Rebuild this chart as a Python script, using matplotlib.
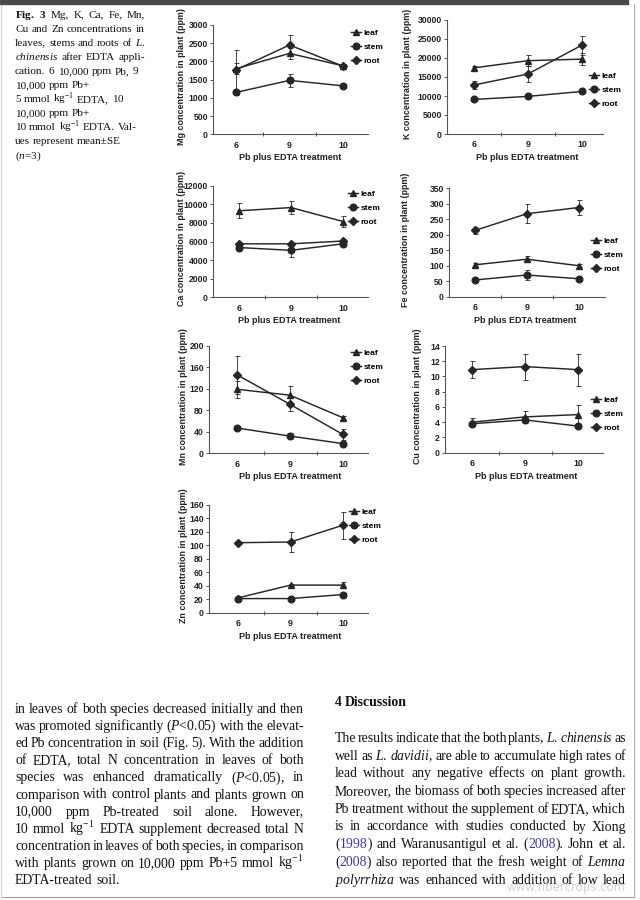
import matplotlib
matplotlib.use('Agg')
import statistics
import matplotlib.pyplot as plt
from matplotlib.lines import Line2D
from matplotlib.patches import Rectangle
from matplotlib.transforms import IdentityTransform

plt.rcParams['mathtext.fontset'] = 'custom'
plt.rcParams['mathtext.rm'] = 'Liberation Serif'
plt.rcParams['mathtext.it'] = 'Liberation Serif:italic'
plt.rcParams['mathtext.bf'] = 'Liberation Serif:bold'

W, H = 640, 900

# ---------------- data ----------------
treatments = ['6', '9', '10']
series_names = ['leaf', 'stem', 'root']

mg_leaf = [1800, 2220, 1880]; mg_leaf_se = [150, 150, 50]
mg_stem = [1150, 1480, 1330]; mg_stem_se = [60, 170, 50]
mg_root = [1770, 2450, 1870]; mg_root_se = [550, 270, 50]
mg_yticks = [0, 500, 1000, 1500, 2000, 2500, 3000]

k_leaf = [17400, 19300, 19700]; k_leaf_se = [500, 1500, 1500]
k_stem = [9100, 9900, 11200]; k_stem_se = [300, 400, 500]
k_root = [12900, 15800, 23400]; k_root_se = [1000, 2200, 2500]
k_yticks = [0, 5000, 10000, 15000, 20000, 25000, 30000]

ca_leaf = [9300, 9650, 8150]; ca_leaf_se = [800, 700, 600]
ca_stem = [5350, 5050, 5750]; ca_stem_se = [300, 700, 200]
ca_root = [5750, 5750, 6050]; ca_root_se = [200, 200, 200]
ca_yticks = [0, 2000, 4000, 6000, 8000, 10000, 12000]

fe_leaf = [103, 121, 100]; fe_leaf_se = [5, 10, 5]
fe_stem = [54, 70, 58]; fe_stem_se = [5, 15, 5]
fe_root = [214, 268, 288]; fe_root_se = [10, 30, 25]
fe_yticks = [0, 50, 100, 150, 200, 250, 300, 350]

mn_leaf = [119, 108, 66]; mn_leaf_se = [16, 18, 3]
mn_stem = [47, 32, 18]; mn_stem_se = [3, 6, 3]
mn_root = [146, 91, 35]; mn_root_se = [35, 12, 10]
mn_yticks = [0, 40, 80, 120, 160, 200]

cu_leaf = [4.0, 4.7, 5.0]; cu_leaf_se = [0.5, 0.8, 1.3]
cu_stem = [3.8, 4.3, 3.5]; cu_stem_se = [0.2, 0.3, 0.2]
cu_root = [10.9, 11.3, 10.9]; cu_root_se = [1.1, 1.7, 2.1]
cu_yticks = [0, 2, 4, 6, 8, 10, 12, 14]

zn_leaf = [22, 41, 41]; zn_leaf_se = [1, 2, 4]
zn_stem = [21, 21, 27]; zn_stem_se = [1, 1, 3]
zn_root = [104, 105, 130]; zn_root_se = [2, 15, 20]
zn_yticks = [0, 20, 40, 60, 80, 100, 120, 140, 160]

# ---------------- layout (pixel geometry of each panel) ----------------
panels = [
    dict(el='Mg', s=[(mg_leaf, mg_leaf_se), (mg_stem, mg_stem_se), (mg_root, mg_root_se)], yt=mg_yticks,
         box=(213, 368, 25, 134.3), cats=(236, 343), ylx=182, xl=(290, 158), leg=(351, 29)),
    dict(el='K', s=[(k_leaf, k_leaf_se), (k_stem, k_stem_se), (k_root, k_root_se)], yt=k_yticks,
         box=(447, 603, 20, 134), cats=(474, 582), ylx=408, xl=(527, 158), leg=(589, 72)),
    dict(el='Ca', s=[(ca_leaf, ca_leaf_se), (ca_stem, ca_stem_se), (ca_root, ca_root_se)], yt=ca_yticks,
         box=(213, 368, 185.7, 297.3), cats=(239, 343), ylx=181, xl=(289, 320.7), leg=(348, 190)),
    dict(el='Fe', s=[(fe_leaf, fe_leaf_se), (fe_stem, fe_stem_se), (fe_root, fe_root_se)], yt=fe_yticks,
         box=(449, 605, 188.3, 296.7), cats=(475, 579), ylx=405, xl=(525, 320), leg=(591, 237)),
    dict(el='Mn', s=[(mn_leaf, mn_leaf_se), (mn_stem, mn_stem_se), (mn_root, mn_root_se)], yt=mn_yticks,
         box=(209, 368, 345.7, 453.3), cats=(237, 343), ylx=183, xl=(290, 476.7), leg=(351, 349)),
    dict(el='Cu', s=[(cu_leaf, cu_leaf_se), (cu_stem, cu_stem_se), (cu_root, cu_root_se)], yt=cu_yticks,
         box=(445, 603, 346, 452.7), cats=(472, 578), ylx=417, xl=(526, 476.7), leg=(591, 396)),
    dict(el='Zn', s=[(zn_leaf, zn_leaf_se), (zn_stem, zn_stem_se), (zn_root, zn_root_se)], yt=zn_yticks,
         box=(209, 368, 505, 612.7), cats=(238, 343), ylx=183, xl=(290, 636.7), leg=(349, 508)),
]

markers = ['^', 'o', 'D']
msizes = [4.8, 4.8, 4.2]
ink = '#262626'
sans_b = dict(family='Liberation Sans', weight='bold')

fig = plt.figure(figsize=(W / 100, H / 100), dpi=100)
fig.patch.set_facecolor('white')

for p in panels:
    x0, x1, yt, yb = p['box']
    ax = fig.add_axes([x0 / W, 1 - yb / H, (x1 - x0) / W, (yb - yt) / H])
    c1, c3 = p['cats']
    unit = (c3 - c1) / 2.0
    ax.set_xlim(1 - (c1 - x0) / unit, 3 + (x1 - c3) / unit)
    ax.set_ylim(0, p['yt'][-1])
    ax.patch.set_alpha(0)
    xs = [1, 2, 3]
    handles = []
    for (vals, se), m, ms in zip(p['s'], markers, msizes):
        ax.errorbar(xs, vals, yerr=se, color=ink, marker=m, ms=ms, lw=1.05,
                    elinewidth=0.6, capsize=1.8, capthick=0.6, mec=ink, mfc=ink)
        handles.append(Line2D([], [], color=ink, marker=m, ms=ms, lw=1.05))
    for sp in ['top', 'right']:
        ax.spines[sp].set_visible(False)
    for sp in ['left', 'bottom']:
        ax.spines[sp].set_linewidth(0.8)
        ax.spines[sp].set_color('#555555')
    ax.set_yticks(p['yt'])
    ax.set_yticklabels([str(v) for v in p['yt']], fontsize=6.2, **sans_b, color='#222')
    ax.tick_params(axis='y', direction='out', length=2.5, width=0.7, pad=1.2, colors='#555555', labelcolor='#222')
    ax.set_xticks(xs)
    ax.set_xticklabels(treatments, fontsize=6.4, **sans_b, color='#222')
    ax.tick_params(axis='x', which='major', length=0, pad=4.6)
    ax.set_xticks([1.5, 2.5], minor=True)
    ax.tick_params(axis='x', which='minor', direction='inout', length=3, width=0.7, colors='#555555')
    fig.text(p['ylx'] / W, 1 - ((yt + yb) / 2 - 3) / H, p['el'] + ' concentration in plant (ppm)',
             rotation=90, ha='center', va='center', fontsize=6.4, color='#222', **sans_b)
    fig.text(p['xl'][0] / W, 1 - p['xl'][1] / H, 'Pb plus EDTA treatment',
             ha='center', va='center', fontsize=6.5, color='#222', **sans_b)
    ax.legend(handles, series_names, loc='upper left', bbox_to_anchor=(p['leg'][0] / W, 1 - p['leg'][1] / H),
              bbox_transform=fig.transFigure, frameon=False, handlelength=1.25, handletextpad=0.25,
              labelspacing=0.75, borderpad=0, borderaxespad=0,
              prop=dict(family='Liberation Sans', weight='bold', size=6))

# ---------------- page text ----------------
renderer = fig.canvas.get_renderer()
ID = IdentityTransform()


def make_groups(line, size, weight, yb):
    groups = []
    for w in line.split(' '):
        arts = []
        for piece in w.split('|'):
            col = '#111111'
            if piece.startswith('~'):
                col = '#3b3b9a'
                piece = piece[1:]
            t = fig.text(0, yb, piece, transform=ID, fontsize=size, family='Liberation Serif',
                         weight=weight, color=col, ha='left', va='baseline')
            arts.append(t)
        groups.append(arts)
    widths = [[a.get_window_extent(renderer).width for a in g] for g in groups]
    return groups, widths


def fit_size(lines, justify, width, s0, weight='normal'):
    ratios = []
    for line, just in zip(lines, justify):
        if not just:
            continue
        groups, widths = make_groups(line, s0, weight, 0)
        nat = sum(sum(ws) for ws in widths) + (len(groups) - 1) * 0.25 * s0 * 100 / 72
        ratios.append(width / nat)
        for g in groups:
            for a in g:
                a.remove()
    return s0 * statistics.median(ratios) * 0.985


def draw_lines(lines, x0, x1, y0, dy, size, justify, weight='normal'):
    for i, (line, just) in enumerate(zip(lines, justify)):
        yb = H - (y0 + i * dy)
        groups, widths = make_groups(line, size, weight, yb)
        total = sum(sum(ws) for ws in widths)
        nat_space = 0.25 * size * 100 / 72
        if just and len(groups) > 1:
            gap = (x1 - x0 - total) / (len(groups) - 1)
        else:
            gap = nat_space
        x = x0
        for g, ws in zip(groups, widths):
            for a, wpx in zip(g, ws):
                a.set_x(x)
                x += wpx
            x += gap


caption = [
    r"$\mathbf{Fig.}$ $\mathbf{3}$ Mg, K, Ca, Fe, Mn,",
    r"Cu and Zn concentrations in",
    r"leaves, stems and roots of $\mathit{L.}$",
    r"$\mathit{chinensis}$ after EDTA appli-",
    r"cation. $\mathit{6}$ 10,000 ppm Pb, $\mathit{9}$",
    r"10,000 ppm Pb+",
    r"5 mmol kg$^{-1}$ EDTA, $\mathit{10}$",
    r"10,000 ppm Pb+",
    r"10 mmol kg$^{-1}$ EDTA. Val-",
    r"ues represent mean±SE",
    r"($\mathit{n}$=3)",
]
cap_just = [True, True, True, True, False, False, False, False, False, False, False]
cap_size = fit_size(caption, cap_just, 130, 8.2)
draw_lines(caption, 15, 145, 17.5, 14.1, cap_size, cap_just)

left_body = [
    "in leaves of both species decreased initially and then",
    r"was promoted significantly ($\mathit{P}$<0.05) with the elevat-",
    "ed Pb concentration in soil (Fig. 5). With the addition",
    "of EDTA, total N concentration in leaves of both",
    r"species was enhanced dramatically ($\mathit{P}$<0.05), in",
    "comparison with control plants and plants grown on",
    "10,000 ppm Pb-treated soil alone. However,",
    r"10 mmol kg$^{-1}$ EDTA supplement decreased total N",
    "concentration in leaves of both species, in comparison",
    r"with plants grown on 10,000 ppm Pb+5 mmol kg$^{-1}$",
    "EDTA-treated soil.",
]
left_just = [True] * 10 + [False]
right_body = [
    r"The results indicate that the both plants, $\mathit{L.}$ $\mathit{chinensis}$ as",
    r"well as $\mathit{L.}$ $\mathit{davidii}$, are able to accumulate high rates of",
    "lead without any negative effects on plant growth.",
    "Moreover, the biomass of both species increased after",
    "Pb treatment without the supplement of EDTA, which",
    "is in accordance with studies conducted by Xiong",
    "(|~1998|) and Waranusantigul et al. (|~2008|). John et al.",
    r"(|~2008|) also reported that the fresh weight of $\mathit{Lemna}$",
    r"$\mathit{polyrrhiza}$ was enhanced with addition of low lead",
]
body_size = fit_size(left_body + right_body, left_just + [True] * 9, 289, 9.2)
draw_lines(left_body, 15, 304, 713, 17.1, body_size, left_just)
draw_lines(["4 Discussion"], 335, 406, 705.5, 17, body_size, [False], weight='bold')
draw_lines(right_body, 335, 626, 742, 17.7, body_size, [True] * 9)

fig.text(626 / W, 1 - 888 / H, 'www.fibercrops.com', ha='right', va='center', fontsize=8.5,
         family='DejaVu Sans', color='#c8c8c8', alpha=0.8)

# page frame
fig.patches.append(Rectangle((0, H - 4), 628, 4, transform=ID, color='#4a4a4a', zorder=5))
fig.lines.append(Line2D([633.5, 633.5], [H - 4, H - 897], transform=ID, color='#b0b0b0', lw=0.8))
fig.lines.append(Line2D([1, 633.5], [H - 897, H - 897], transform=ID, color='#a0a0a0', lw=0.8))
fig.lines.append(Line2D([1, 1], [H - 4, H - 897], transform=ID, color='#cfcfcf', lw=0.8))

fig.savefig('out.png', dpi=100, facecolor='white')
